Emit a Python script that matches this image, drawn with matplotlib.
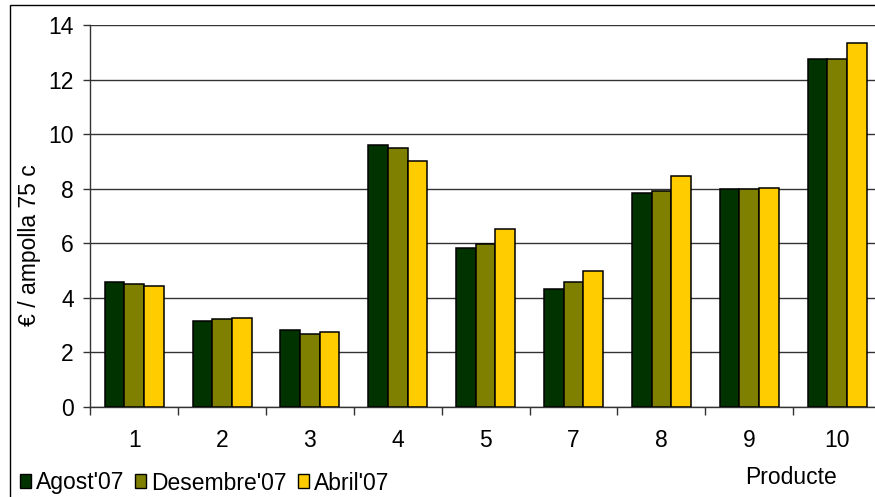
import matplotlib
matplotlib.use("Agg")
import matplotlib.pyplot as plt
import numpy as np
from matplotlib.patches import Patch, Rectangle

products = ["1", "2", "3", "4", "5", "7", "8", "9", "10"]
agost07 = [4.58, 3.15, 2.80, 9.62, 5.83, 4.33, 7.86, 7.98, 12.76]
desembre07 = [4.50, 3.21, 2.68, 9.50, 5.96, 4.58, 7.92, 7.98, 12.76]
abril07 = [4.44, 3.27, 2.74, 9.03, 6.53, 4.98, 8.46, 8.04, 13.35]
series_names = ["Agost'07", "Desembre'07", "Abril'07"]
series_colors = ["#003300", "#808000", "#ffcc00"]

plt.rcParams["font.family"] = ["Liberation Sans", "DejaVu Sans"]
FS = 16.5

fig = plt.figure(figsize=(8.75, 4.97), dpi=100)
ax = fig.add_axes([90.3 / 875, 1 - 406.7 / 497, 790.7 / 875, (406.7 - 25.3) / 497])

x = np.arange(len(products))
w = 0.224
for i, (vals, c) in enumerate(zip([agost07, desembre07, abril07], series_colors)):
    ax.bar(x + (i - 1) * w, vals, width=w, color=c, edgecolor="black",
           linewidth=1.1, zorder=3)

ax.set_xlim(-0.5, len(products) - 0.5)
ax.set_ylim(0, 14)
ax.set_yticks(range(0, 15, 2))
ax.yaxis.grid(True, color="#333333", linewidth=1.0, zorder=0)
ax.set_axisbelow(True)

ax.set_xticks(x)
ax.set_xticklabels(products)
ax.set_xticks(np.arange(len(products) + 1) - 0.5, minor=True)
ax.tick_params(axis="x", which="major", length=0, pad=16, labelsize=FS)
ax.tick_params(axis="x", which="minor", length=5.5, width=1, color="#333333")
ax.tick_params(axis="y", length=5, width=1, color="#333333", pad=7, labelsize=FS)

for s in ["top", "right"]:
    ax.spines[s].set_visible(False)
for s in ["left", "bottom"]:
    ax.spines[s].set_color("#333333")
    ax.spines[s].set_linewidth(1.0)

fig.text(30 / 875, 1 - 245 / 497, "€ / ampolla 75 c", rotation=90,
         ha="center", va="center", fontsize=FS)
fig.text(791 / 875, 1 - 478 / 497, "Producte", ha="center", va="center", fontsize=FS)

handles = [Patch(facecolor=c, edgecolor="black", linewidth=1.0) for c in series_colors]
fig.legend(handles, series_names, loc="center left",
           bbox_to_anchor=(20 / 875, 1 - 483 / 497), ncol=3, frameon=False,
           fontsize=FS, handlelength=0.48, handleheight=0.55,
           handletextpad=0.2, columnspacing=0.5, borderaxespad=0.0,
           borderpad=0.0)

# figure frame (left and top edges visible in the cropped original)
fig.patches.append(Rectangle((10 / 875, -0.01), 1.0, 1 - 5 / 497 + 0.01,
                             transform=fig.transFigure, fill=False,
                             edgecolor="black", linewidth=1.0))

fig.savefig("out.png", dpi=100)
